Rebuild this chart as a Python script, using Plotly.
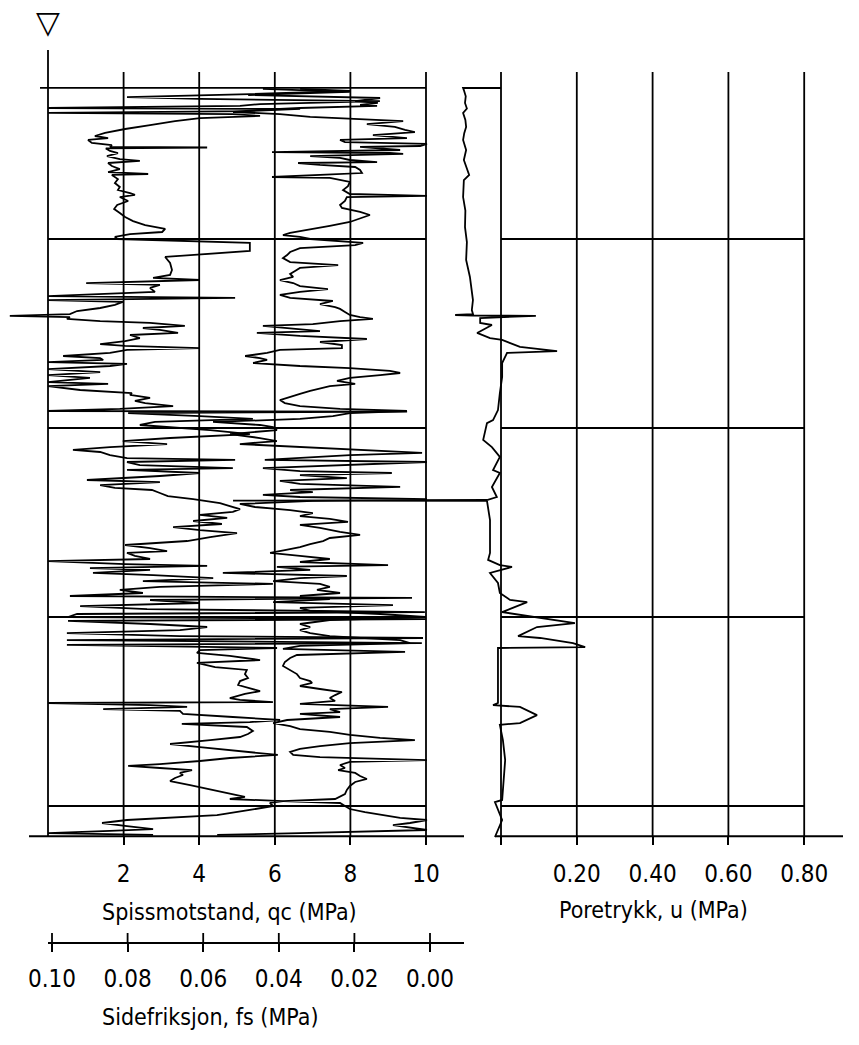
import plotly.graph_objects as go

# CPT sounding: depth [m] against cone resistance qc, sleeve friction fs and pore pressure u

qc_depth = [
    0.206, 0.217, 0.233, 0.249, 0.259, 0.270, 0.286, 0.296, 0.307, 0.312,
    0.323, 0.333, 0.339, 0.349, 0.360, 0.376, 0.397, 0.418, 0.439, 0.455,
    0.466, 0.476, 0.492, 0.503, 0.513, 0.516, 0.521, 0.534, 0.545, 0.561,
    0.577, 0.587, 0.598, 0.614, 0.630, 0.646, 0.656, 0.661, 0.683, 0.704,
    0.725, 0.741, 0.757, 0.767, 0.778, 0.799, 0.820, 0.841, 0.862, 0.884,
    0.905, 0.926, 0.947, 0.963, 0.974, 0.989, 1.000, 1.021, 1.063, 1.095,
    1.127, 1.164, 1.190, 1.206, 1.217, 1.233, 1.243, 1.259, 1.280, 1.302,
    1.312, 1.323, 1.333, 1.349, 1.365, 1.381, 1.397, 1.407, 1.413, 1.423,
    1.434, 1.444, 1.460, 1.471, 1.481, 1.497, 1.508, 1.524, 1.540, 1.556,
    1.566, 1.577, 1.587, 1.603, 1.619, 1.630, 1.640, 1.651, 1.661, 1.672,
    1.688, 1.704, 1.720, 1.735, 1.757, 1.767, 1.778, 1.799, 1.815, 1.825,
    1.841, 1.857, 1.868, 1.884, 1.899, 1.910, 1.913, 1.921, 1.937, 1.952,
    1.968, 1.984, 2.011, 2.032, 2.053, 2.069, 2.085, 2.101, 2.116, 2.127,
    2.143, 2.159, 2.169, 2.180, 2.196, 2.212, 2.222, 2.238, 2.254, 2.275,
    2.286, 2.302, 2.317, 2.328, 2.344, 2.360, 2.376, 2.397, 2.413, 2.429,
    2.444, 2.460, 2.476, 2.492, 2.508, 2.524, 2.540, 2.556, 2.577, 2.598,
    2.619, 2.635, 2.651, 2.661, 2.677, 2.693, 2.704, 2.709, 2.720, 2.730,
    2.741, 2.751, 2.767, 2.778, 2.794, 2.810, 2.825, 2.841, 2.857, 2.873,
    2.889, 2.899, 2.910, 2.926, 2.942, 2.958, 2.974, 2.984, 3.000, 3.011,
    3.021, 3.037, 3.053, 3.069, 3.085, 3.101, 3.111, 3.122, 3.138, 3.148,
    3.164, 3.175, 3.190, 3.206, 3.228, 3.243, 3.265, 3.280, 3.302, 3.323,
    3.339, 3.360, 3.376, 3.392, 3.407, 3.429, 3.439, 3.450, 3.455, 3.466,
    3.476, 3.487, 3.497, 3.513, 3.529, 3.545, 3.556, 3.566, 3.582, 3.603,
    3.619, 3.635, 3.651, 3.672, 3.688, 3.704, 3.720, 3.730, 3.746, 3.762,
    3.778, 3.788, 3.799, 3.810, 3.825, 3.836, 3.852, 3.868, 3.889, 3.915,
    3.937, 3.952, 3.963, 3.974, 3.984, 4.000, 4.021, 4.048, 4.074, 4.090,
    4.106, 4.122, 4.132, 4.143, 4.153,
]
qc_mpa = [
    6.67, 7.99, 5.34, 2.09, 4.02, 8.78, 5.61, 5.08, 0.00, 6.67,
    5.34, 0.00, 4.89, 5.61, 4.02, 3.36, 2.70, 2.04, 1.51, 1.24,
    1.59, 1.06, 1.16, 1.69, 1.64, 4.21, 1.53, 1.64, 1.85, 1.56,
    1.90, 2.43, 1.59, 1.69, 1.90, 1.59, 2.65, 1.69, 1.85, 1.77,
    1.90, 1.85, 2.17, 2.30, 1.90, 2.12, 1.83, 1.75, 1.90, 2.04,
    2.25, 2.57, 3.10, 3.02, 2.17, 1.77, 1.83, 5.34, 5.34, 3.10,
    3.23, 3.28, 3.23, 2.78, 4.02, 1.01, 2.96, 2.70, 2.83, 0.00,
    4.95, 0.00, 1.98, 1.77, 1.38, 0.77, 0.58, -1.01, 0.58, 0.50,
    1.38, 2.70, 3.62, 2.51, 2.96, 3.44, 2.17, 2.43, 2.04, 1.38,
    2.04, 4.02, 2.09, 1.64, 0.40, 1.38, 1.46, 0.00, 2.09, 1.64,
    0.00, 1.38, 0.00, 1.11, 0.00, 1.59, 0.00, 0.85, 2.22, 2.17,
    2.70, 2.30, 2.57, 3.31, 1.90, 0.00, 9.50, 2.12, 4.02, 5.42,
    2.83, 2.43, 4.29, 5.34, 3.23, 1.98, 3.15, 1.64, 0.66, 1.38,
    1.64, 2.09, 4.95, 2.09, 2.43, 4.89, 2.09, 4.02, 2.96, 1.03,
    2.96, 1.38, 1.77, 2.75, 2.96, 3.17, 3.84, 4.55, 4.81, 5.08,
    4.89, 4.02, 4.74, 3.84, 4.60, 3.31, 4.02, 5.00, 4.29, 3.68,
    2.04, 2.70, 3.15, 2.09, 2.30, 2.70, 0.00, 0.63, 2.04, 4.21,
    1.11, 2.70, 1.19, 2.78, 4.37, 2.51, 5.95, 2.96, 1.90, 2.51,
    0.58, 9.63, 2.70, 4.02, 0.85, 2.62, 9.97, 0.77, 0.53, 10.0,
    0.53, 2.70, 4.21, 3.49, 0.50, 3.49, 9.92, 0.50, 9.89, 0.50,
    6.06, 4.02, 3.94, 4.81, 5.61, 3.94, 4.42, 5.26, 5.21, 5.29,
    5.08, 5.03, 5.34, 5.61, 5.21, 4.81, 5.08, 5.95, 0.00, 2.70,
    3.68, 1.46, 3.49, 3.57, 4.89, 6.14, 5.34, 3.54, 5.26, 5.42,
    5.29, 5.08, 4.29, 3.23, 4.02, 4.81, 5.61, 6.08, 4.81, 4.02,
    2.96, 2.12, 2.96, 3.81, 3.49, 3.57, 3.36, 3.23, 3.76, 4.37,
    4.81, 5.21, 4.81, 6.22, 5.87, 5.95, 5.34, 4.47, 2.09, 1.43,
    2.09, 2.78, 1.64, 0.00, 2.78,
]

fs_depth = [
    0.206, 0.212, 0.222, 0.238, 0.254, 0.270, 0.280, 0.291, 0.296, 0.307,
    0.317, 0.328, 0.339, 0.354, 0.376, 0.392, 0.407, 0.423, 0.434, 0.450,
    0.466, 0.476, 0.487, 0.497, 0.508, 0.513, 0.529, 0.540, 0.545, 0.550,
    0.561, 0.571, 0.582, 0.593, 0.598, 0.608, 0.619, 0.635, 0.651, 0.672,
    0.677, 0.698, 0.720, 0.741, 0.762, 0.772, 0.778, 0.799, 0.820, 0.836,
    0.857, 0.873, 0.889, 0.910, 0.931, 0.952, 0.968, 0.979, 0.989, 1.000,
    1.011, 1.021, 1.032, 1.048, 1.069, 1.085, 1.101, 1.122, 1.138, 1.153,
    1.169, 1.185, 1.201, 1.217, 1.233, 1.249, 1.265, 1.280, 1.296, 1.312,
    1.328, 1.344, 1.360, 1.370, 1.386, 1.402, 1.413, 1.423, 1.434, 1.450,
    1.460, 1.471, 1.487, 1.497, 1.513, 1.529, 1.545, 1.561, 1.577, 1.587,
    1.603, 1.619, 1.630, 1.640, 1.656, 1.672, 1.683, 1.698, 1.709, 1.720,
    1.735, 1.751, 1.767, 1.778, 1.788, 1.804, 1.820, 1.836, 1.852, 1.868,
    1.884, 1.899, 1.910, 1.921, 1.937, 1.952, 1.968, 1.984, 1.995, 2.011,
    2.032, 2.053, 2.069, 2.085, 2.101, 2.116, 2.132, 2.143, 2.159, 2.169,
    2.180, 2.196, 2.212, 2.228, 2.238, 2.249, 2.265, 2.280, 2.296, 2.312,
    2.328, 2.339, 2.354, 2.365, 2.376, 2.386, 2.402, 2.418, 2.434, 2.450,
    2.466, 2.481, 2.497, 2.513, 2.529, 2.550, 2.566, 2.582, 2.598, 2.614,
    2.630, 2.646, 2.661, 2.677, 2.693, 2.709, 2.725, 2.735, 2.751, 2.767,
    2.783, 2.794, 2.810, 2.825, 2.841, 2.857, 2.873, 2.889, 2.905, 2.921,
    2.937, 2.952, 2.968, 2.984, 3.000, 3.016, 3.037, 3.053, 3.069, 3.085,
    3.101, 3.122, 3.138, 3.153, 3.169, 3.185, 3.201, 3.217, 3.238, 3.259,
    3.280, 3.302, 3.323, 3.339, 3.349, 3.365, 3.381, 3.397, 3.413, 3.429,
    3.444, 3.460, 3.476, 3.487, 3.503, 3.513, 3.529, 3.545, 3.561, 3.577,
    3.593, 3.608, 3.624, 3.640, 3.651, 3.667, 3.683, 3.698, 3.714, 3.730,
    3.741, 3.757, 3.767, 3.783, 3.799, 3.810, 3.825, 3.841, 3.857, 3.873,
    3.894, 3.915, 3.937, 3.952, 3.963, 3.974, 3.984, 4.000, 4.016, 4.032,
    4.048, 4.063, 4.074, 4.090, 4.101, 4.116, 4.127, 4.143, 4.153,
]
fs_mpa = [
    0.0442, 0.0331, 0.0212, 0.0481, 0.0132, 0.0198, 0.0138, 0.0185, 0.0140, 0.0344,
    0.0450, 0.0521, 0.0397, 0.0317, 0.0071, 0.0167, 0.0093, 0.0066, 0.0040, 0.0151,
    0.0061, 0.0238, 0.0225, 0.0008, 0.0026, 0.0185, 0.0079, 0.0418, 0.0106, 0.0071,
    0.0317, 0.0238, 0.0212, 0.0140, 0.0349, 0.0291, 0.0198, 0.0185, 0.0180, 0.0418,
    0.0265, 0.0212, 0.0217, 0.0230, 0.0212, 0.0008, 0.0220, 0.0225, 0.0238, 0.0233,
    0.0185, 0.0159, 0.0180, 0.0212, 0.0265, 0.0331, 0.0370, 0.0389, 0.0344, 0.0317,
    0.0238, 0.0177, 0.0198, 0.0344, 0.0370, 0.0378, 0.0389, 0.0370, 0.0243, 0.0344,
    0.0357, 0.0370, 0.0362, 0.0397, 0.0362, 0.0344, 0.0270, 0.0344, 0.0397, 0.0370,
    0.0257, 0.0291, 0.0251, 0.0238, 0.0225, 0.0212, 0.0185, 0.0151, 0.0238, 0.0310,
    0.0442, 0.0370, 0.0291, 0.0458, 0.0344, 0.0167, 0.0291, 0.0233, 0.0233, 0.0397,
    0.0431, 0.0489, 0.0450, 0.0431, 0.0468, 0.0344, 0.0212, 0.0106, 0.0079, 0.0132,
    0.0212, 0.0246, 0.0198, 0.0265, 0.0286, 0.0317, 0.0344, 0.0370, 0.0397, 0.0384,
    0.0344, 0.0238, 0.0061, 0.0212, 0.0257, 0.0344, 0.0574, 0.0450, 0.0415, 0.0405,
    0.0529, 0.0450, 0.0405, 0.0503, 0.0344, 0.0212, 0.0021, 0.0212, 0.0344, 0.0437,
    0.0008, 0.0212, 0.0442, 0.0344, 0.0101, 0.0344, 0.0220, 0.0397, 0.0344, 0.0079,
    0.0370, 0.0310, 0.0442, 0.0344, 0.0008, 0.0310, 0.0503, 0.0463, 0.0370, 0.0310,
    0.0344, 0.0265, 0.0217, 0.0344, 0.0291, 0.0238, 0.0185, 0.0265, 0.0283, 0.0317,
    0.0344, 0.0384, 0.0423, 0.0344, 0.0265, 0.0344, 0.0111, 0.0405, 0.0317, 0.0548,
    0.0220, 0.0344, 0.0415, 0.0291, 0.0265, 0.0299, 0.0238, 0.0344, 0.0265, 0.0415,
    0.0098, 0.0344, 0.0317, 0.0132, 0.0013, 0.0265, 0.0344, 0.0317, 0.0344, 0.0317,
    0.0265, 0.0079, 0.0053, 0.0344, 0.0389, 0.0066, 0.0352, 0.0370, 0.0384, 0.0389,
    0.0370, 0.0352, 0.0344, 0.0317, 0.0312, 0.0344, 0.0291, 0.0233, 0.0251, 0.0265,
    0.0251, 0.0344, 0.0111, 0.0265, 0.0238, 0.0344, 0.0238, 0.0378, 0.0415, 0.0370,
    0.0344, 0.0265, 0.0212, 0.0132, 0.0040, 0.0212, 0.0291, 0.0344, 0.0370, 0.0362,
    0.0291, 0.0008, 0.0212, 0.0238, 0.0225, 0.0243, 0.0198, 0.0185, 0.0167, 0.0198,
    0.0212, 0.0220, 0.0225, 0.0238, 0.0251, 0.0389, 0.0238, 0.0225, 0.0212, 0.0172,
    0.0124, 0.0079, 0.0008, 0.0053, 0.0098, 0.0053, 0.0008, 0.0344, 0.0563,
]

u_depth = [
    0.201, 0.201, 0.212, 0.245, 0.280, 0.310, 0.333, 0.370, 0.407, 0.440,
    0.476, 0.529, 0.582, 0.661, 0.688, 0.778, 0.850, 0.937, 1.016, 1.111,
    1.201, 1.270, 1.323, 1.376, 1.397, 1.402, 1.405, 1.407, 1.418, 1.444,
    1.455, 1.497, 1.524, 1.534, 1.571, 1.593, 1.603, 1.656, 1.730, 1.815,
    1.905, 1.958, 1.974, 2.063, 2.101, 2.153, 2.222, 2.238, 2.312, 2.365,
    2.381, 2.384, 2.386, 2.487, 2.661, 2.698, 2.725, 2.735, 2.767, 2.820,
    2.873, 2.910, 2.921, 2.974, 3.005, 3.032, 3.053, 3.101, 3.111, 3.138,
    3.159, 3.164, 3.455, 3.466, 3.476, 3.519, 3.561, 3.571, 3.651, 3.757,
    3.968, 3.979, 4.074, 4.164,
]
u_mpa = [
    0.000, -0.100, -0.098, -0.093, -0.095, -0.090, -0.100, -0.094, -0.092, -0.097,
    -0.100, -0.092, -0.098, -0.084, -0.098, -0.100, -0.094, -0.095, -0.090, -0.092,
    -0.082, -0.077, -0.074, -0.077, -0.074, -0.121, -0.074, 0.092, -0.055, -0.055,
    -0.024, -0.063, -0.029, 0.003, 0.050, 0.148, 0.016, 0.003, 0.003, -0.003,
    -0.008, -0.021, -0.037, -0.047, -0.024, -0.003, -0.021, -0.003, -0.024, -0.011,
    -0.037, -0.707, -0.037, -0.029, -0.029, -0.034, -0.003, 0.029, -0.029, -0.008,
    -0.003, 0.024, 0.069, 0.003, 0.103, 0.195, 0.095, 0.045, 0.103, 0.190,
    0.222, -0.008, -0.008, -0.021, 0.050, 0.095, 0.050, -0.003, 0.005, 0.011,
    0.003, -0.016, 0.003, -0.016,
]

qc_ticks = [2, 4, 6, 8, 10]
qc_ticktext = ["2", "4", "6", "8", "10"]
u_ticks = [0.0, 0.2, 0.4, 0.6, 0.8]
u_ticktext = ["", "0.20", "0.40", "0.60", "0.80"]
fs_ticks = [0.10, 0.08, 0.06, 0.04, 0.02, 0.00]
fs_ticktext = ["0.10", "0.08", "0.06", "0.04", "0.02", "0.00"]
depth_grid = [1, 2, 3, 4]
start_depth = 0.2
end_depth = 4.16

# page geometry (px) of each scale
W, H = 859, 1045
QC0, QC_PX = 48, 37.8       # px where qc = 0, px per MPa
U0, U_PX = 501, 379         # px where u = 0, px per MPa
FS0, FS_PX = 430, 3780      # px where fs = 0, px per MPa (drawn right to left)
D0, D_PX = 50, 189          # px where depth = 0, px per m

FONT = "DejaVu Sans Condensed, Liberation Sans Narrow, DejaVu Sans, sans-serif"
INK = "black"
LW = 1.8
CURVE_W = 1.8


def px_to_qc(p):
    return (p - QC0) / QC_PX


def px_to_u(p):
    return (p - U0) / U_PX


def px_to_fs(p):
    return (FS0 - p) / FS_PX


def px_to_depth(p):
    return (p - D0) / D_PX


fig = go.Figure()
fig.add_trace(go.Scatter(x=qc_mpa, y=qc_depth, mode="lines", xaxis="x", yaxis="y",
                         line=dict(color=INK, width=CURVE_W), name="qc"))
fig.add_trace(go.Scatter(x=fs_mpa, y=fs_depth, mode="lines", xaxis="x3", yaxis="y",
                         line=dict(color=INK, width=CURVE_W), name="fs"))
fig.add_trace(go.Scatter(x=u_mpa, y=u_depth, mode="lines", xaxis="x2", yaxis="y",
                         line=dict(color=INK, width=CURVE_W), name="u"))

shapes = []


def seg(xref, x0, x1, y0, y1, width=LW):
    shapes.append(dict(type="line", xref=xref, yref="y", x0=x0, x1=x1, y0=y0, y1=y1,
                       line=dict(color=INK, width=width), layer="below"))


grid_top = px_to_depth(72)

# left panel frame and grid
seg("x", 0, 0, 0, end_depth)
for v in qc_ticks:
    seg("x", v, v, grid_top, end_depth)
seg("x", px_to_qc(40), 10, start_depth, start_depth)
for d in depth_grid:
    seg("x", 0, 10, d, d)
seg("x", px_to_qc(29), px_to_qc(464), end_depth, end_depth)

# right panel frame and grid
for v in u_ticks:
    seg("x2", v, v, grid_top, end_depth)
for d in depth_grid:
    seg("x2", 0, 0.8, d, d)
seg("x2", px_to_u(495), px_to_u(843), end_depth, end_depth)

# sleeve friction scale below
fs_line = px_to_depth(943)
seg("x3", px_to_fs(48), px_to_fs(464), fs_line, fs_line)
for v in fs_ticks:
    seg("x3", v, v, px_to_depth(933), fs_line)

tickfont = dict(family=FONT, size=24, color=INK)
common_x = dict(showgrid=False, zeroline=False, showline=False, ticks="outside",
                ticklen=8, tickwidth=LW, tickcolor=INK, tickfont=tickfont,
                anchor="free", automargin=False, fixedrange=True)

fig.update_layout(
    width=W, height=H,
    margin=dict(l=0, r=0, t=0, b=0),
    paper_bgcolor="white", plot_bgcolor="white",
    showlegend=False,
    template="none",
    font=dict(family=FONT, color=INK),
    xaxis=dict(range=[px_to_qc(0), px_to_qc(W)], domain=[0, 1],
               tickvals=qc_ticks, ticktext=qc_ticktext,
               position=1 - 836 / H, ticklabelstandoff=8, **common_x),
    xaxis2=dict(range=[px_to_u(0), px_to_u(W)], overlaying="x",
                tickvals=u_ticks, ticktext=u_ticktext,
                position=1 - 836 / H, ticklabelstandoff=8, **common_x),
    xaxis3=dict(range=[px_to_fs(0), px_to_fs(W)], overlaying="x",
                tickvals=fs_ticks, ticktext=fs_ticktext,
                position=1 - 943 / H, ticklabelstandoff=6, **common_x),
    yaxis=dict(range=[px_to_depth(H), px_to_depth(0)], domain=[0, 1],
               visible=False, fixedrange=True),
    shapes=shapes,
)

titlefont = dict(family=FONT, size=23, color=INK)
fig.add_annotation(text="Spissmotstand, qc (MPa)", xref="paper", yref="paper",
                   x=100 / W, y=1 - 912 / H, xanchor="left", yanchor="middle",
                   showarrow=False, font=titlefont)
fig.add_annotation(text="Sidefriksjon, fs (MPa)", xref="paper", yref="paper",
                   x=100 / W, y=1 - 1017 / H, xanchor="left", yanchor="middle",
                   showarrow=False, font=titlefont)
fig.add_annotation(text="Poretrykk, u (MPa)", xref="paper", yref="paper",
                   x=653 / W, y=1 - 910 / H, xanchor="center", yanchor="middle",
                   showarrow=False, font=titlefont)
# groundwater level marker
fig.add_annotation(text="▽", xref="x", yref="y", x=0, y=px_to_depth(22),
                   xanchor="center", yanchor="middle", showarrow=False,
                   font=dict(family="DejaVu Sans", size=31, color=INK))

fig.write_html("out.html")
